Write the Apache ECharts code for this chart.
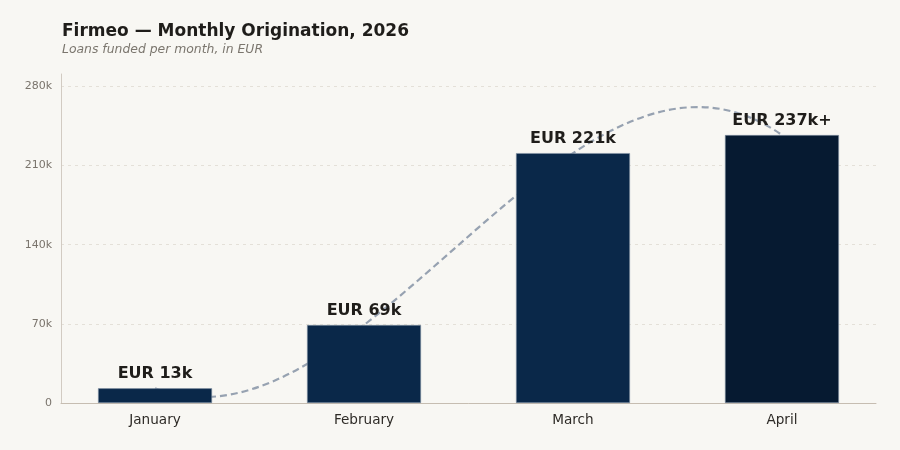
<!DOCTYPE html>
<html>
<head>
<meta charset="utf-8">
<script src="https://cdn.jsdelivr.net/npm/echarts@6/dist/echarts.min.js"></script>
<style>
html,body{margin:0;padding:0;background:#f8f7f3;}
#chart{width:900px;height:450px;}
</style>
</head>
<body>
<div id="chart"></div>
<script>
var months = ['January', 'February', 'March', 'April'];
var funded = [13000, 69000, 221000, 237000];
var labels = ['EUR 13k', 'EUR 69k', 'EUR 221k', 'EUR 237k+'];
var barColors = ['#0a2849', '#0a2849', '#0a2849', '#061a31'];
var yTicks = [0, 70000, 140000, 210000, 280000];

var FONT = 'DejaVu Sans';
var chart = echarts.init(document.getElementById('chart'), null, {renderer: 'canvas'});

var barData = funded.map(function (v, i) {
  return {value: [i, v], itemStyle: {color: barColors[i]}};
});

// Trend curve: the single cubic through the four monthly values, drawn as one Bezier
function trendItem(params, api) {
  var y = funded;
  var b0 = y[0], b3 = y[3];
  var b1 = (-5 * y[0] + 18 * y[1] - 9 * y[2] + 2 * y[3]) / 6;
  var b2 = (2 * y[0] - 9 * y[1] + 18 * y[2] - 5 * y[3]) / 6;
  var p0 = api.coord([0, b0]);
  var p1 = api.coord([1, b1]);
  var p2 = api.coord([2, b2]);
  var p3 = api.coord([3, b3]);
  return {
    type: 'bezierCurve',
    shape: {x1: p0[0], y1: p0[1], cpx1: p1[0], cpy1: p1[1], cpx2: p2[0], cpy2: p2[1], x2: p3[0], y2: p3[1]},
    style: {stroke: '#97a2b1', lineWidth: 2.2, fill: null, lineDash: [7, 4]}
  };
}

var option = {
  backgroundColor: '#f8f7f3',
  animation: false,
  title: {
    text: 'Firmeo — Monthly Origination, 2026',
    subtext: 'Loans funded per month, in EUR',
    left: 57,
    top: 18,
    itemGap: 4,
    textStyle: {fontFamily: FONT, fontSize: 17, fontWeight: 'bold', color: '#1f1d1a'},
    subtextStyle: {fontFamily: FONT, fontSize: 12.4, fontStyle: 'italic', color: '#7b766e'}
  },
  grid: {left: 61, right: 24, top: 74, bottom: 47, containLabel: false},
  xAxis: {
    type: 'value',
    min: -0.45,
    max: 3.45,
    splitNumber: 8,
    splitLine: {show: false},
    axisLine: {show: true, onZero: false, lineStyle: {color: '#c6bdb1', width: 1}},
    axisTick: {show: false},
    axisLabel: {
      fontFamily: FONT, fontSize: 13.6, color: '#2e2b27', margin: 10,
      showMinLabel: false, showMaxLabel: false,
      formatter: function (v) {
        var r = Math.round(v);
        return (Math.abs(v - r) < 1e-6 && months[r] !== undefined) ? months[r] : '';
      }
    }
  },
  yAxis: {
    type: 'value',
    min: 0,
    max: 291000,
    interval: 70000,
    axisLine: {show: true, onZero: false, lineStyle: {color: '#d2cbc2', width: 1}},
    axisTick: {show: false},
    axisLabel: {
      fontFamily: FONT, fontSize: 11, color: '#7a746c', margin: 9, showMaxLabel: false,
      formatter: function (v) {
        if (yTicks.indexOf(v) < 0) return '';
        return v === 0 ? '0' : (v / 1000) + 'k';
      }
    },
    splitLine: {show: true, showMaxLine: false, lineStyle: {color: '#e4e0d8', type: [3, 4], width: 1}}
  },
  series: [
    {
      type: 'custom',
      renderItem: function (params, api) { return trendItem(params, api); },
      data: [[0, 0]],
      z: 1,
      silent: true
    },
    {
      type: 'bar',
      barWidth: 114,
      z: 2,
      data: barData,
      itemStyle: {borderColor: '#8493a6', borderWidth: 0.6},
      label: {
        show: true,
        position: 'top',
        distance: 6,
        fontFamily: FONT,
        fontSize: 16,
        fontWeight: 'bold',
        color: '#1f1d1a',
        formatter: function (p) { return labels[p.dataIndex]; }
      }
    }
  ]
};
chart.setOption(option);
</script>
</body>
</html>
